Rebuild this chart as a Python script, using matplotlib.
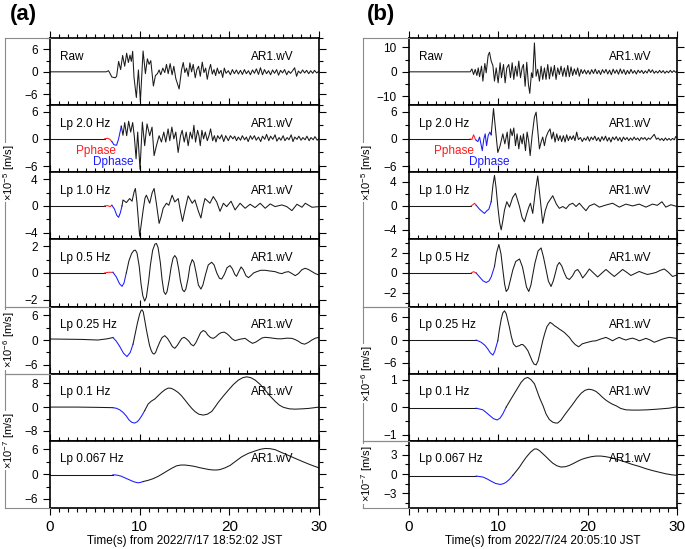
import numpy as np
import matplotlib
matplotlib.use("Agg")
import matplotlib.pyplot as plt
from matplotlib.lines import Line2D
from matplotlib.ticker import MultipleLocator

plt.rcParams["font.family"] = ["Liberation Sans", "DejaVu Sans"]
plt.rcParams["mathtext.fontset"] = "custom"
plt.rcParams["mathtext.rm"] = "Liberation Sans"
plt.rcParams["mathtext.it"] = "Liberation Sans:italic"
plt.rcParams["mathtext.bf"] = "Liberation Sans:bold"

# ---------------- data: (time [s], amplitude) ----------------
# (a) 2022/7/17 18:52:02 JST
a_raw = [(0, 0), (6.27, 0), (6.53, 0.3), (6.9, -1.4), (7.28, -1.6), (7.43, -1.2), (7.65, 2.8),
         (7.88, 0.6), (8.1, 4.4), (8.33, 1.5), (8.55, 5.0), (8.74, 2.5), (8.92, 4.5), (9.07, 2.8),
         (9.22, 5.5), (9.37, -1.5), (9.63, -6.9), (9.86, 0.5), (10.08, -8.0), (10.38, 5.6),
         (10.64, -0.5), (10.86, 3.5), (11.05, 2.0), (11.24, 3.0), (11.53, -3.8), (11.76, -1.0),
         (11.98, -0.5), (12.17, 0.5), (12.35, -0.8), (12.58, 1.0), (12.8, -0.2), (12.99, 2.0),
         (13.18, -0.5), (13.4, 2.2), (13.62, -0.8), (13.81, 1.5), (14.03, -1.8), (14.4, -4.6),
         (14.67, 0.5), (14.86, 2.5), (15.04, -0.2), (15.23, 1.0), (15.42, -1.2), (15.6, 2.4),
         (15.79, 0), (15.97, 2.0), (16.2, -1.6), (16.38, 0.6), (16.57, 1.5), (16.76, -1.2),
         (16.98, 2.6), (17.17, -0.2), (17.36, 1.0), (17.54, -2.0), (17.73, 0.5), (17.91, 2.0),
         (18.1, -0.6), (18.29, 0.6), (18.47, -1.0), (18.66, 1.0), (18.85, -0.5), (19.07, 0.4),
         (19.26, -1.5), (19.44, 1.0), (19.63, -0.4), (19.89, 0.3), (20.12, -0.8), (20.34, 0.6),
         (20.56, -0.5), (20.79, 0.5), (21.01, -0.6), (21.24, 0.4), (21.46, -0.7), (21.68, 0.6),
         (21.9, -0.5), (22.13, 0.3), (22.35, -0.8), (22.58, 0.5), (22.8, -0.4), (23.02, 0.8),
         (23.25, -0.7), (23.47, 1.1), (23.7, -0.8), (23.92, 0.6), (24.15, -0.5), (24.37, 0.3),
         (24.6, -0.8), (24.82, 0.5), (25.04, -0.4), (25.27, 0.6), (25.49, -0.9), (25.71, 0.4),
         (25.94, -0.3), (26.16, 0.6), (26.4, -0.8), (26.6, 0.2), (26.83, -0.4), (27.06, 0.3),
         (27.28, 1.1), (27.5, -1.2), (27.7, 0.2), (27.95, -0.4), (28.17, 0.5), (28.4, -0.3),
         (28.62, 0.4), (28.85, -0.5), (29.07, 0.3), (29.3, -0.4), (29.5, 0.4), (29.74, -0.3), (30, 0.2)]

a_lp20 = [(0, 0), (6.08, 0), (6.38, 0.15), (6.68, -0.1), (6.9, -0.6), (7.13, -1.3), (7.43, -1.4),
          (7.65, 0.0), (7.95, 2.8), (8.14, 0.8), (8.33, 3.6), (8.55, 0.7), (8.77, 3.9), (9.0, 1.5),
          (9.22, 3.6), (9.41, 0.4), (9.6, -4.4), (9.78, 1.5), (10.04, -6.7), (10.3, 3.7), (10.56, -1.5),
          (10.82, 3.3), (11.12, 0.7), (11.38, 2.6), (11.61, -3.7), (11.87, -1.5), (12.17, 0.7),
          (12.43, -0.7), (12.69, 1.5), (12.91, -0.7), (13.17, 2.2), (13.36, -0.4), (13.59, 2.6),
          (13.81, 0), (14.03, 1.5), (14.29, -3.0), (14.56, 0.7), (14.74, 1.9), (14.97, -0.7),
          (15.19, 1.5), (15.41, -1.5), (15.64, 1.5), (15.86, 0), (16.05, 3.0), (16.23, -0.7),
          (16.46, 1.9), (16.61, 0.7), (16.76, -1.5), (16.94, 1.9), (17.13, 0), (17.32, 1.5),
          (17.54, -0.4), (17.73, 0.7), (17.91, 2.2), (18.14, -0.4), (18.33, 0.7), (18.51, -0.7),
          (18.7, 0.7), (18.93, 0), (19.15, 0.9), (19.37, -0.6), (19.6, 0.7), (19.89, -0.4),
          (20.12, 0.7), (20.4, 0), (20.6, 0.6), (20.8, -0.4), (21.0, 0.4), (21.25, -0.3), (21.45, 0.7),
          (21.7, -0.2), (21.9, 0.4), (22.1, -0.6), (22.35, 0.7), (22.55, -0.1), (22.8, 0.7),
          (23.0, -0.3), (23.25, 0.4), (23.5, -0.6), (23.7, 0.6), (23.95, -0.1), (24.15, 1.0),
          (24.4, -0.4), (24.6, 0.6), (24.85, -0.1), (25.1, 0.9), (25.3, -0.5), (25.55, 0.3),
          (25.75, -0.3), (26.0, 0.7), (26.2, -0.4), (26.45, 0.3), (26.65, -0.2), (26.9, 0.9),
          (27.1, -0.6), (27.3, 0.4), (27.55, -0.1), (27.75, 0.6), (28.0, -0.3), (28.2, 0.3),
          (28.45, -0.2), (28.65, 0.6), (28.9, -0.4), (29.1, 0.3), (29.35, -0.2), (29.55, 0.5),
          (29.8, -0.3), (30, 0.1)]

a_lp10 = [(0, 0), (6.08, 0), (6.4, 0.05), (6.7, -0.1), (6.9, 0.1), (7.2, -0.5), (7.45, -1.4),
          (7.65, -1.7), (7.85, -1.0), (8.03, 0.0), (8.14, 0.89), (8.52, 0.5), (8.88, 1.1), (9.15, 0.7),
          (9.38, 2.1), (9.52, 2.6), (9.7, 0.5), (10.0, -4.5), (10.2, -2.5), (10.4, -0.5), (10.6, 1.2),
          (10.75, 1.6), (11.12, 0.4), (11.4, 2.0), (11.61, 2.6), (11.85, 0.5), (12.17, -2.6),
          (12.4, -1.6), (12.62, -0.35), (12.99, 0.4), (13.25, 0.1), (13.62, 1.6), (13.92, 0.6),
          (14.3, 1.1), (14.55, -0.8), (14.78, -2.3), (15.05, -0.6), (15.41, 1.5), (15.86, 0.4),
          (16.16, 0.9), (16.55, -0.8), (16.83, -1.8), (17.05, -0.2), (17.28, 1.1), (17.84, 0.4),
          (18.21, 1.4), (18.59, 0.6), (18.96, -0.8), (19.34, 0.4), (19.7, -0.1), (20.19, 0.7),
          (20.64, -0.6), (21.2, 0.4), (21.76, -0.35), (22.32, 0.25), (22.87, -0.25), (23.44, 0.4),
          (24.0, -0.35), (24.56, 0.3), (25.1, -0.1), (25.86, 0.15), (26.4, -0.1), (26.98, -0.7),
          (27.54, 0.25), (28.1, -0.2), (28.47, 0.4), (29.22, -0.2), (30, -0.1)]

a_lp05 = [(0, 0), (6.08, 0), (6.5, 0.05), (7.02, 0.05), (7.4, -0.3), (7.75, -0.8), (8.03, -1.0),
          (8.25, -0.75), (8.51, 0.0), (8.8, 0.9), (9.1, 1.45), (9.35, 1.68), (9.52, 1.7), (9.7, 1.5),
          (9.95, 0.5), (10.15, -0.8), (10.35, -1.7), (10.56, -2.1), (10.75, -1.8), (11.0, -0.6),
          (11.2, 0.6), (11.45, 1.7), (11.7, 2.15), (11.87, 2.2), (12.05, 1.9), (12.3, 0.8),
          (12.5, -0.5), (12.7, -1.4), (12.88, -1.6), (13.05, -1.4), (13.3, -0.5), (13.5, 0.4),
          (13.72, 1.1), (13.92, 1.3), (14.12, 1.1), (14.35, 0.3), (14.55, -0.6), (14.78, -1.25),
          (14.97, -1.4), (15.15, -1.2), (15.4, -0.4), (15.6, 0.5), (15.86, 1.0), (16.05, 0.8),
          (16.3, 0.0), (16.55, -0.9), (16.83, -1.2), (17.05, -0.9), (17.35, -0.1), (17.65, 0.6),
          (18.03, 0.8), (18.3, 0.6), (18.6, 0.0), (18.9, -0.4), (19.15, -0.45), (19.45, -0.1),
          (19.75, 0.4), (20.08, 0.55), (20.35, 0.3), (20.6, -0.1), (20.8, -0.25), (21.05, 0.1),
          (21.31, 0.45), (21.55, 0.25), (21.85, -0.2), (22.13, -0.35), (22.4, -0.2), (22.7, 0.0),
          (23.06, 0.1), (23.5, 0.2), (24.0, 0.2), (24.5, 0.15), (25.1, 0.1), (25.5, 0.0),
          (25.86, -0.05), (26.2, 0.05), (26.6, 0.1), (27.0, -0.05), (27.35, -0.2), (27.7, -0.05),
          (28.1, 0.25), (28.47, 0.35), (28.85, 0.25), (29.22, 0.1), (29.6, -0.05), (30, -0.15)]

a_lp025 = [(0, 0.25), (3.47, 0.15), (5.34, 0.0), (6.4, 0.3), (7.02, 0.6), (7.4, -0.3), (7.76, -1.5),
           (8.2, -3.2), (8.59, -4.0), (8.95, -3.0), (9.26, -1.0), (9.5, 1.5), (9.74, 4.0), (10.0, 6.3),
           (10.15, 7.1), (10.26, 7.3), (10.4, 6.8), (10.55, 5.0), (10.75, 2.5), (10.93, 0.5),
           (11.1, -1.3), (11.3, -2.6), (11.45, -3.2), (11.61, -3.4), (11.78, -3.0), (11.95, -2.0),
           (12.24, -0.5), (12.5, 0.6), (12.8, 1.05), (13.1, 0.4), (13.36, -0.5), (13.65, -1.6),
           (13.92, -2.0), (14.2, -1.3), (14.48, -0.3), (14.7, 0.4), (14.96, 0.65), (15.2, 0.3),
           (15.49, -0.3), (15.75, -1.1), (16.01, -1.4), (16.25, -0.7), (16.54, 0.6), (16.8, 1.8),
           (17.1, 2.3), (17.35, 2.0), (17.6, 1.2), (17.9, 0.6), (18.21, 0.4), (18.5, 0.8),
           (18.8, 1.4), (19.1, 1.8), (19.44, 1.9), (19.75, 1.5), (20.0, 1.0), (20.3, 0.3),
           (20.64, -0.15), (21.2, 0.2), (21.76, 0.4), (22.2, -0.3), (22.58, -0.8), (22.95, -0.5),
           (23.3, 0.0), (23.65, 0.5), (24.0, 0.65), (24.5, 0.55), (25.0, 0.4), (25.4, 0.3),
           (25.86, 0.3), (26.4, 0.45), (26.98, 0.4), (27.35, 0.1), (27.7, -0.3), (28.05, -0.8),
           (28.4, -1.0), (28.8, -0.6), (29.2, 0.0), (29.6, 0.45), (30, 0.65)]

a_lp01 = [(0, 0), (3.0, 0.0), (5.34, -0.1), (7.02, -0.2), (7.4, -0.4), (7.77, -0.9), (8.15, -1.8),
          (8.51, -3.0), (8.8, -4.3), (9.1, -5.1), (9.44, -5.4), (9.75, -4.9), (10.0, -4.0),
          (10.3, -2.6), (10.56, -1.2), (10.94, 1.0), (11.3, 2.0), (11.68, 2.7), (12.05, 3.8),
          (12.43, 4.9), (12.8, 5.8), (13.18, 6.4), (13.55, 6.3), (13.92, 5.7), (14.3, 4.9),
          (14.67, 3.8), (15.05, 2.4), (15.41, 1.0), (15.8, -0.4), (16.16, -1.5), (16.6, -2.4),
          (17.09, -2.7), (17.55, -2.4), (18.03, -1.5), (18.4, 0.0), (18.77, 1.6), (19.3, 3.6),
          (19.89, 5.7), (20.45, 7.6), (21.01, 9.1), (21.5, 9.9), (21.94, 10.2), (22.4, 9.9),
          (22.88, 9.1), (23.45, 7.6), (24.0, 5.7), (24.55, 3.7), (25.12, 1.9), (25.6, 0.6),
          (26.05, -0.1), (26.7, -0.6), (27.35, -0.7), (28.1, -0.6), (28.85, -0.45), (29.5, -0.2),
          (30, 0)]

a_lp0067 = [(0, -0.15), (7.02, -0.15), (7.5, -0.25), (7.95, -0.5), (8.4, -0.95), (8.88, -1.4),
            (9.35, -1.85), (9.81, -2.1), (10.1, -2.0), (10.38, -1.8), (10.94, -1.5), (11.5, -1.1),
            (12.05, -0.55), (12.6, 0.15), (13.17, 0.9), (13.65, 1.5), (14.11, 2.0), (14.6, 2.2),
            (15.04, 2.2), (15.6, 2.05), (16.16, 1.85), (16.7, 1.55), (17.28, 1.3), (17.75, 1.1),
            (18.2, 1.0), (18.6, 1.0), (18.96, 1.1), (19.5, 1.5), (20.08, 2.1), (20.7, 3.1),
            (21.39, 4.2), (22.1, 5.0), (22.88, 5.6), (23.45, 6.0), (24.0, 6.2), (24.55, 6.15),
            (25.12, 5.9), (25.85, 5.2), (26.61, 4.5), (27.35, 3.8), (28.1, 3.1), (29.0, 2.3),
            (30, 1.5)]

# (b) 2022/7/24 20:05:10 JST
b_raw = [(0, 0), (6.85, 0), (7.04, 1.2), (7.23, -1.1), (7.41, 1.0), (7.6, -1.5), (7.75, 1.6),
         (7.9, -2.0), (8.12, 2.3), (8.27, -3.8), (8.49, 3.4), (8.64, -0.4), (8.86, 6.7), (9.01, 8.0),
         (9.2, 4.4), (9.39, 2.6), (9.57, -3.8), (9.76, 1.6), (9.98, -4.5), (10.2, 3.7), (10.35, -2.4),
         (10.58, 3.0), (10.76, -4.5), (10.95, 1.6), (11.17, 3.0), (11.36, -2.4), (11.55, 3.7),
         (11.73, -3.1), (11.92, 2.3), (12.1, -1.8), (12.29, 4.4), (12.48, -2.4), (12.66, 1.6),
         (12.81, 3.0), (13.0, -5.9), (13.18, 3.9), (13.37, -5.2), (13.52, -8.8), (13.71, -0.4),
         (13.85, -2.4), (14.04, 11.8), (14.23, -1.8), (14.41, 1.0), (14.6, -3.8), (14.79, 2.3),
         (14.97, -3.1), (15.16, 1.6), (15.34, -3.1), (15.53, 3.0), (15.72, -2.9), (15.9, 2.0),
         (16.09, -1.8), (16.28, 2.6), (16.46, -3.1), (16.65, 1.6), (16.83, -1.1), (17.02, 2.3),
         (17.21, -1.8), (17.39, 1.6), (17.58, -2.0), (17.77, 2.6), (17.95, -2.0), (18.14, 2.0),
         (18.32, -1.5), (18.51, 1.2), (18.7, -1.1), (18.88, 1.6), (19.07, -1.8), (19.26, 1.0),
         (19.44, -0.7), (19.65, 0.8), (19.85, -0.9), (20.05, 0.6), (20.25, -1.0), (20.45, 0.9),
         (20.65, -0.7), (20.85, 1.1), (21.05, -0.8), (21.25, 0.6), (21.45, -1.1), (21.65, 0.9),
         (21.85, -0.5), (22.05, 1.0), (22.25, -0.9), (22.45, 0.7), (22.65, -1.2), (22.85, 1.1),
         (23.05, -0.6), (23.25, 0.8), (23.45, -1.0), (23.65, 1.2), (23.85, -0.7), (24.05, 0.9),
         (24.25, -1.1), (24.45, 0.6), (24.65, -0.8), (24.85, 1.0), (25.05, -0.6), (25.25, 0.5),
         (25.45, -0.9), (25.65, 0.7), (25.85, -0.4), (26.05, 0.6), (26.25, -0.7), (26.45, 0.4),
         (26.65, -0.5), (26.85, 1.0), (27.05, -0.3), (27.25, 0.8), (27.45, -0.6), (27.65, 0.3),
         (27.85, -0.5), (28.05, 0.6), (28.25, -0.4), (28.45, 0.5), (28.65, -0.6), (28.85, 0.3),
         (29.05, -0.4), (29.25, 0.6), (29.45, -0.3), (29.65, 0.5), (29.85, -0.2), (30, 0.3)]

b_lp20 = [(0, 0), (6.85, 0), (7.04, -0.15), (7.23, 0.9), (7.41, 0), (7.52, -0.3), (7.71, -0.6),
          (7.9, 0.4), (8.2, -2.6), (8.38, 0), (8.53, 1.1), (8.68, -1.5), (8.86, 0.7), (9.05, 1.5),
          (9.2, 0.9), (9.46, 6.7), (9.68, 2.2), (9.94, -3.0), (10.2, -1.5), (10.5, 1.1), (10.73, -1.1),
          (10.99, 1.5), (11.17, -2.2), (11.36, 2.2), (11.55, 0.7), (11.73, 2.4), (11.92, -1.5),
          (12.1, 1.1), (12.29, -2.2), (12.48, 0.7), (12.66, -1.1), (12.81, 1.1), (13.04, -2.6),
          (13.22, 1.5), (13.41, -0.7), (13.56, -3.7), (13.78, 0.7), (14.04, 4.8), (14.23, 5.9),
          (14.41, 1.9), (14.6, -2.2), (14.79, -0.7), (14.97, 0.4), (15.16, -1.5), (15.34, 0.4),
          (15.57, 1.5), (15.79, 2.2), (15.98, 0), (16.16, 1.5), (16.35, -0.7), (16.54, 1.1),
          (16.72, -0.4), (16.91, 0.7), (17.09, -0.6), (17.28, 0.7), (17.47, -0.7), (17.65, 0.9),
          (17.84, -0.4), (18.03, 0.6), (18.21, -0.15), (18.4, 0.7), (18.58, -0.4), (18.77, 1.5),
          (18.96, -0.15), (19.2, 0.3), (19.4, -0.6), (19.6, 0.2), (19.8, -0.3), (20.0, 0.5),
          (20.2, -0.5), (20.4, 0.4), (20.6, -0.2), (20.8, 0.6), (21.0, -0.4), (21.2, 0.3),
          (21.4, -0.6), (21.6, 0.5), (21.8, -0.3), (22.0, 0.6), (22.2, -0.5), (22.4, 0.3),
          (22.6, -0.7), (22.8, 0.4), (23.0, -0.2), (23.2, 0.5), (23.4, -0.4), (23.6, 0.3),
          (23.8, -0.6), (24.0, 0.4), (24.2, -0.2), (24.4, 0.3), (24.6, -0.4), (24.8, 0.2),
          (25.0, -0.3), (25.2, 0.4), (25.4, -0.2), (25.6, 0.2), (25.8, -0.4), (26.0, 0.3),
          (26.2, -0.1), (26.4, 0.3), (26.6, -0.3), (26.8, 0.2), (27.0, -0.1), (27.2, 0.4),
          (27.45, 1.0), (27.7, -0.1), (27.9, 0.2), (28.1, -0.3), (28.3, 0.1), (28.5, -0.4),
          (28.7, 0.2), (28.9, -0.3), (29.1, 0.1), (29.3, -0.3), (29.5, 0.1), (29.7, -0.2),
          (29.85, 0.5), (30, 0.3)]

b_lp10 = [(0, 0), (6.96, 0), (7.15, 0.2), (7.34, 0.45), (7.52, 0.1), (7.9, -0.55), (8.2, -0.95),
          (8.45, -1.25), (8.72, -0.8), (8.94, -0.55), (9.2, 0.7), (9.4, 3.5), (9.57, 5.1), (9.75, 3.0),
          (9.94, -0.1), (10.15, -2.8), (10.32, -4.0), (10.5, -2.5), (10.69, -0.7), (10.95, 0.7),
          (11.25, -0.2), (11.6, 1.4), (11.92, 2.1), (12.15, 1.0), (12.37, -0.1), (12.65, -1.9),
          (12.92, -2.65), (13.2, -1.2), (13.41, -0.2), (13.59, 0.45), (13.85, -1.25), (14.15, 2.5),
          (14.41, 5.0), (14.7, 1.0), (14.97, -2.9), (15.25, -0.8), (15.53, 0.45), (16.09, 1.7),
          (16.5, 0.3), (16.83, -0.4), (17.21, -0.1), (17.58, -0.45), (17.95, 0.2), (18.32, 0.45),
          (18.7, -0.1), (19.07, 0.45), (19.44, -0.2), (19.81, -0.8), (20.19, 0), (20.74, 0.35),
          (21.3, -0.2), (22.05, 0.15), (22.79, 0.45), (23.54, -0.2), (24.28, 0.3), (25.03, 0),
          (25.77, 0.3), (26.52, -0.2), (27.26, 0.3), (27.8, 0.1), (28.31, 0.7), (28.75, -0.2),
          (29.31, 0.2), (30, -0.1)]

b_lp05 = [(0, 0), (6.96, 0), (7.23, 0.13), (7.52, 0), (7.9, -0.4), (8.3, -0.8), (8.64, -0.95),
          (8.95, -0.8), (9.2, -0.4), (9.57, 0.65), (9.8, 2.0), (10.06, 2.85), (10.3, 1.9),
          (10.5, 0.35), (10.7, -1.1), (10.88, -1.85), (11.1, -1.6), (11.35, -0.7), (11.62, 0.3),
          (11.95, 1.15), (12.37, 1.4), (12.7, 0.6), (12.92, -0.35), (13.15, -1.4), (13.41, -1.85),
          (13.65, -1.2), (13.85, -0.2), (14.1, 1.0), (14.45, 2.2), (14.79, 2.5), (15.05, 1.6),
          (15.34, 0.35), (15.6, -0.8), (15.9, -1.35), (16.15, -0.8), (16.39, 0), (16.6, 0.75),
          (16.83, 1.05), (17.1, 0.7), (17.39, 0.0), (17.65, -0.5), (17.95, -0.65), (18.3, -0.3),
          (18.6, 0.2), (18.88, 0.35), (19.15, 0.0), (19.44, -0.5), (19.8, -0.1), (20.19, 0.4),
          (20.65, 0.0), (21.12, -0.4), (21.6, 0.0), (22.05, 0.35), (22.5, 0.0), (22.98, -0.35),
          (23.45, 0.0), (23.91, 0.35), (24.4, 0.05), (24.84, -0.25), (25.3, -0.05), (25.77, 0.15),
          (26.2, 0.0), (26.7, -0.15), (27.2, -0.05), (27.64, 0.05), (28.1, 0.25), (28.57, 0.4),
          (29.0, 0.1), (29.5, -0.35), (30, -0.2)]

b_lp025 = [(0, 0), (7.52, 0), (8.08, -0.6), (8.5, -1.4), (8.83, -2.4), (9.1, -3.4), (9.39, -4.0),
           (9.6, -3.0), (9.94, -0.2), (10.12, 2.8), (10.32, 5.5), (10.5, 7.2), (10.69, 7.75),
           (10.88, 7.0), (11.05, 5.3), (11.25, 3.3), (11.45, 1.0), (11.69, -1.05), (11.99, -1.8),
           (12.2, -1.6), (12.37, -1.5), (12.55, -1.2), (12.74, -1.2), (13.0, -1.8), (13.3, -2.8),
           (13.55, -4.2), (13.8, -5.6), (14.0, -6.4), (14.23, -6.6), (14.45, -5.5), (14.6, -4.0),
           (14.8, -2.0), (14.97, -0.2), (15.2, 1.8), (15.45, 3.6), (15.79, 4.7), (16.05, 4.3),
           (16.28, 3.8), (16.55, 3.4), (16.83, 2.9), (17.1, 2.5), (17.39, 2.0), (17.65, 1.4),
           (17.95, 0.7), (18.25, -0.3), (18.6, -1.2), (18.99, -1.8), (19.4, -1.0), (20.0, -0.6),
           (20.5, -0.3), (20.93, -0.2), (21.5, 0.3), (22.05, 0.7), (22.4, 0.3), (22.79, -0.2),
           (23.15, 0.3), (23.54, 0.7), (23.9, 0.3), (24.28, 0), (24.65, 0.3), (25.03, 0.5),
           (25.4, 0.2), (25.77, -0.2), (26.15, 0.1), (26.52, 0.45), (27.0, 0.0), (27.45, -0.6),
           (27.9, -0.2), (28.38, 0.25), (28.75, 0.5), (29.12, 0.7), (29.5, 0.6), (30, 0.4)]

b_lp01 = [(0, -0.04), (7.52, -0.04), (8.27, -0.1), (8.65, -0.2), (9.01, -0.3), (9.45, -0.42),
          (9.87, -0.47), (10.2, -0.4), (10.5, -0.25), (10.88, 0.0), (11.43, 0.3), (11.99, 0.6),
          (12.55, 0.9), (12.95, 1.04), (13.3, 1.08), (13.65, 1.0), (14.04, 0.85), (14.3, 0.62),
          (14.6, 0.35), (15.0, 0.05), (15.34, -0.25), (15.7, -0.45), (16.09, -0.55), (16.4, -0.58),
          (16.65, -0.58), (17.0, -0.48), (17.39, -0.3), (17.85, -0.1), (18.32, 0.1), (18.8, 0.32),
          (19.26, 0.5), (19.7, 0.61), (20.11, 0.65), (20.5, 0.63), (20.93, 0.57), (21.3, 0.47),
          (21.68, 0.35), (22.05, 0.25), (22.42, 0.17), (22.8, 0.1), (23.17, 0.05), (23.7, -0.05),
          (24.28, -0.1), (25.0, -0.11), (25.77, -0.11), (26.7, -0.1), (27.64, -0.08), (28.4, -0.06),
          (29.12, -0.04), (30, 0.01)]

b_lp0067 = [(0, -0.3), (7.52, -0.3), (8.27, -0.45), (8.75, -0.75), (9.2, -1.1), (9.7, -1.45),
            (10.2, -1.6), (10.55, -1.5), (10.88, -1.25), (11.25, -0.8), (11.62, -0.2), (12.0, 0.45),
            (12.37, 1.1), (12.75, 1.9), (13.11, 2.6), (13.6, 3.4), (14.04, 3.9), (14.3, 3.9),
            (14.6, 3.65), (14.95, 3.2), (15.34, 2.7), (15.7, 2.2), (16.09, 1.7), (16.55, 1.3),
            (17.02, 1.1), (17.5, 1.15), (17.95, 1.35), (18.4, 1.65), (18.88, 2.0), (19.35, 2.3),
            (19.81, 2.5), (20.4, 2.7), (20.93, 2.8), (21.5, 2.8), (22.05, 2.7), (22.6, 2.55),
            (23.17, 2.35), (23.7, 2.1), (24.28, 1.85), (25.0, 1.5), (25.77, 1.2), (26.5, 0.85),
            (27.26, 0.55), (28.0, 0.3), (28.75, 0.05), (29.4, -0.1), (30, -0.2)]

# phase windows (P start, D start, D end); None = no P / no colouring
a_phases = [None, (6.08, 6.9, 7.95), (6.08, 6.9, 8.03), (6.08, 7.02, 8.51),
            (None, 7.02, 9.26), (None, 7.02, 10.56), (None, 7.02, 10.38)]
b_phases = [None, (6.85, 7.52, 9.2), (6.96, 7.52, 9.2), (6.96, 7.52, 9.57),
            (None, 7.52, 9.94), (None, 7.52, 10.88), (None, 7.52, 11.62)]

names = ["Raw", "Lp 2.0 Hz", "Lp 1.0 Hz", "Lp 0.5 Hz", "Lp 0.25 Hz", "Lp 0.1 Hz", "Lp 0.067 Hz"]
a_ylim = [9, 7.4, 5, 2.5, 8.1, 11.3, 8.1]
a_major = [6, 6, 4, 2, 6, 8, 6]
b_ylim = [13.7, 7.4, 5.6, 3.35, 8.9, 1.22, 5.2]
b_major = [10, 6, 4, 2, 6, 1, 3]
a_groups = [(0, 3, -5), (4, 4, -6), (5, 6, -7)]
b_groups = [(0, 3, -5), (4, 5, -6), (6, 6, -7)]

# ---------------- layout (pixels) ----------------
W, H = 685, 549
TOP, PH = 38.3, 67.05
INK, RED, BLUE, GRAY = "#1a1a1a", "#ff1a1a", "#1a1aff", "#8a8a8a"
LW = 0.75

fig = plt.figure(figsize=(W / 100, H / 100), dpi=100)


def draw_trace(ax, pts, ph):
    t, v = np.array(pts, dtype=float).T
    if ph is None:
        ax.plot(t, v, color=INK, lw=LW)
        return
    p0, d0, d1 = ph
    first = p0 if p0 is not None else d0
    m = t <= first
    ax.plot(t[m], v[m], color=INK, lw=LW)
    if p0 is not None:
        m = (t >= p0) & (t <= d0)
        ax.plot(t[m], v[m], color=RED, lw=LW)
    m = (t >= d0) & (t <= d1)
    ax.plot(t[m], v[m], color=BLUE, lw=LW)
    m = t >= d1
    ax.plot(t[m], v[m], color=INK, lw=LW)


def column(left, width, traces, phases, ylims, majors, groups, brx, tag, tag_x, date, pp):
    axes = []
    for k in range(7):
        bottom = H - (TOP + PH * (k + 1))
        ax = fig.add_axes([left / W, bottom / H, width / W, PH / H])
        draw_trace(ax, traces[k], phases[k])
        ax.set_xlim(0, 30)
        ax.set_ylim(-ylims[k], ylims[k])
        ax.xaxis.set_major_locator(MultipleLocator(10))
        ax.xaxis.set_minor_locator(MultipleLocator(1))
        ax.yaxis.set_major_locator(MultipleLocator(majors[k]))
        ax.yaxis.set_minor_locator(MultipleLocator(majors[k] / 2))
        ax.tick_params(which="both", direction="out", top=True, right=True, width=0.8,
                       labelsize=8.5, pad=4)
        ax.tick_params(which="major", length=4.8)
        ax.tick_params(which="minor", length=2.6)
        ax.tick_params(axis="x", labelbottom=(k == 6), labelsize=11, pad=4)
        for s in ax.spines.values():
            s.set_linewidth(1.2)
        ax.text(0.037, 0.725, names[k], transform=ax.transAxes, fontsize=8.5, va="center")
        ax.text(0.907, 0.725, "AR1.wV", transform=ax.transAxes, fontsize=8.5,
                va="center", ha="right")
        axes.append(ax)
    axes[6].set_xlabel("Time(s) from %s JST" % date, fontsize=8.5, labelpad=1)
    axes[1].text(pp[0], 0.319, "Pphase", color=RED, transform=axes[1].transAxes,
                 fontsize=8.5, va="center", zorder=5)
    axes[1].text(pp[1], 0.155, "Dphase", color=BLUE, transform=axes[1].transAxes,
                 fontsize=8.5, va="center", zorder=5)
    # unit brackets on the left
    fx = lambda x: x / W
    fy = lambda y: 1 - y / H
    for k0, k1, e in groups:
        y0 = TOP + PH * k0
        y1 = TOP + PH * (k1 + 1)
        fig.add_artist(Line2D([fx(brx), fx(brx)], [fy(y0), fy(y1)], color=GRAY, lw=0.8))
        for yy in (y0, y1):
            fig.add_artist(Line2D([fx(brx), fx(left)], [fy(yy), fy(yy)], color=GRAY, lw=0.8))
        fig.text(fx(brx + 4), fy((y0 + y1) / 2), r"×10$^{%d}$ [m/s]" % e, rotation=90,
                 ha="center", va="center", fontsize=8,
                 bbox=dict(facecolor="white", edgecolor="none", pad=1.0))
    fig.text(tag_x / W, 1 - 14.5 / H, tag, fontsize=16, fontweight="bold", va="center")


column(50, 269, [a_raw, a_lp20, a_lp10, a_lp05, a_lp025, a_lp01, a_lp0067], a_phases,
       a_ylim, a_major, a_groups, 5.3, "(a)", 10, "2022/7/17 18:52:02", (0.098, 0.16))
column(409, 268, [b_raw, b_lp20, b_lp10, b_lp05, b_lp025, b_lp01, b_lp0067], b_phases,
       b_ylim, b_major, b_groups, 363.3, "(b)", 367, "2022/7/24 20:05:10", (0.094, 0.223))

fig.savefig("out.png", dpi=100)
